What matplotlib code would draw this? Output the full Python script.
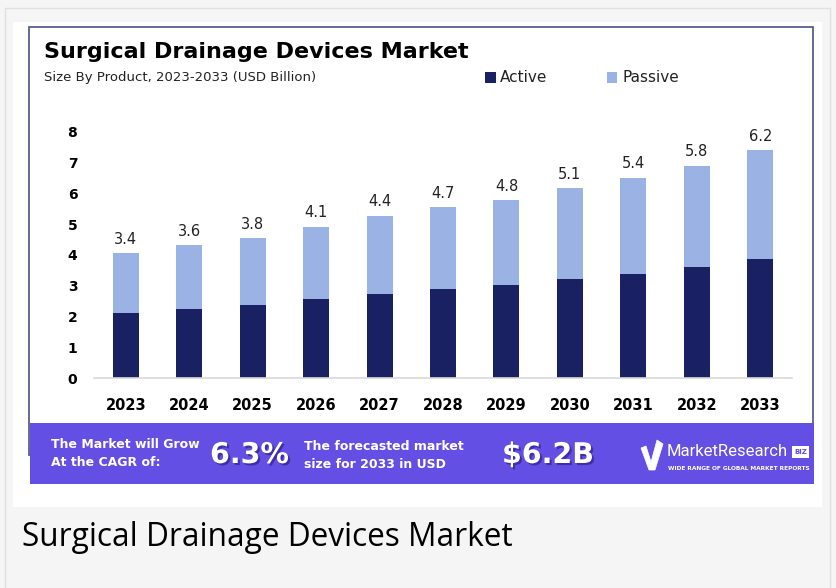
import matplotlib
matplotlib.use("Agg")
import matplotlib.pyplot as plt
import matplotlib.patches as mpatches
import matplotlib.patheffects as pe
import numpy as np

years = ["2023", "2024", "2025", "2026", "2027", "2028", "2029", "2030", "2031", "2032", "2033"]
active = [2.13, 2.25, 2.37, 2.56, 2.75, 2.90, 3.03, 3.22, 3.39, 3.61, 3.87]
passive = [1.93, 2.08, 2.18, 2.36, 2.53, 2.66, 2.76, 2.95, 3.12, 3.29, 3.54]
labels = ["3.4", "3.6", "3.8", "4.1", "4.4", "4.7", "4.8", "5.1", "5.4", "5.8", "6.2"]

W, H = 836, 588
navy = "#1a2163"
light = "#9bb2e4"
purple = "#634fe4"

def px(x, y):
    return x / W, 1 - y / H

fig = plt.figure(figsize=(W / 100, H / 100), dpi=100, facecolor="#f5f5f5")

def rect(x0, y0, x1, y1, **kw):
    r = mpatches.Rectangle(px(x0, y1), (x1 - x0) / W, (y1 - y0) / H,
                           transform=fig.transFigure, **kw)
    fig.patches.append(r)
    return r

# page frame, white card, chart border, banner
rect(5, 8, 830, 600, facecolor="#f5f5f5", edgecolor="#e0e0e0", lw=1)
rect(13, 22, 822, 507, facecolor="white", edgecolor="none")
rect(29, 27, 813, 455, facecolor="white", edgecolor="#4b5282", lw=1.2)
rect(30, 423, 814, 484, facecolor=purple, edgecolor="none")

ax = fig.add_axes([94 / W, 1 - 378.3 / H, 698 / W, (378.3 - 131.7) / H])
ax.set_zorder(5)
ax.set_facecolor("none")
x = np.arange(len(years))
ax.bar(x, active, width=0.41, color=navy)
ax.bar(x, passive, width=0.41, bottom=active, color=light)
tot = np.array(active) + np.array(passive)
for i, lab in enumerate(labels):
    ax.text(x[i], tot[i] + 0.2, lab, ha="center", va="bottom", fontsize=10.5, color="#222222")

ax.set_xlim(-0.5, 10.5)
ax.set_ylim(0, 8)
ax.set_xticks(x)
ax.set_xticklabels(years, fontsize=10.5, fontweight="bold")
ax.set_yticks(range(9))
ax.set_yticklabels([str(v) for v in range(9)], fontsize=10, fontweight="bold")
ax.tick_params(axis="x", length=0, pad=14)
ax.tick_params(axis="y", length=0, pad=12)
for s in ["top", "right", "left"]:
    ax.spines[s].set_visible(False)
ax.spines["bottom"].set_color("#d9d9d9")
ax.spines["bottom"].set_linewidth(1.2)

# titles
fig.text(*px(44, 57.5), "Surgical Drainage Devices Market", fontsize=16, fontweight="bold",
         color="black", va="baseline", ha="left")
fig.text(*px(44, 77), "Size By Product, 2023-2033 (USD Billion)", fontsize=9.5,
         color="#222222", va="center", ha="left")

# legend
rect(485, 72, 496, 83, facecolor=navy, edgecolor="none")
fig.text(*px(500, 77.5), "Active", fontsize=11, color="#222222", va="center", ha="left")
rect(607, 72, 617, 83, facecolor=light, edgecolor="none")
fig.text(*px(622, 77.5), "Passive", fontsize=11, color="#222222", va="center", ha="left")

# banner
shadow = [pe.withSimplePatchShadow(offset=(1.5, -1.5), shadow_rgbFace="#251a80", alpha=0.6)]
fig.text(*px(51, 444), "The Market will Grow", fontsize=9, fontweight="bold", color="white", va="center")
fig.text(*px(51, 462), "At the CAGR of:", fontsize=9, fontweight="bold", color="white", va="center")
fig.text(*px(210, 455), "6.3%", fontsize=20.5, fontweight="bold", color="white", va="center",
         path_effects=shadow)
fig.text(*px(304, 447), "The forecasted market", fontsize=9, fontweight="bold", color="white", va="center")
fig.text(*px(304, 464), "size for 2033 in USD", fontsize=9, fontweight="bold", color="white", va="center")
fig.text(*px(502, 455), "$6.2B", fontsize=20.5, fontweight="bold", color="white", va="center",
         path_effects=shadow)

# logo: double check mark
for pts in ([(641, 448), (646, 446), (651, 462), (649, 470)],
            [(649, 470), (651, 462), (657, 440), (663, 444), (655, 470)]):
    fig.patches.append(mpatches.Polygon([px(a, b) for a, b in pts], closed=True,
                                        transform=fig.transFigure, facecolor="white",
                                        edgecolor="white", lw=0.5))
fig.text(*px(667, 452), "MarketResearch", fontsize=12, color="white", va="center", ha="left",
         family="Roboto")
rect(792, 446, 809, 458, facecolor="white", edgecolor="none")
fig.text(*px(800.5, 452), "BIZ", fontsize=5, fontweight="bold", color=purple, va="center", ha="center")
fig.text(*px(668, 469), "WIDE RANGE OF GLOBAL MARKET REPORTS", fontsize=4.2, fontweight="bold",
         color="white", va="center", ha="left")

# caption
fig.text(*px(22, 546.5), "Surgical Drainage Devices Market", fontsize=22.8, color="black",
         va="baseline", ha="left", family="Open Sans")

fig.savefig("out.png", dpi=100, facecolor=fig.get_facecolor())
